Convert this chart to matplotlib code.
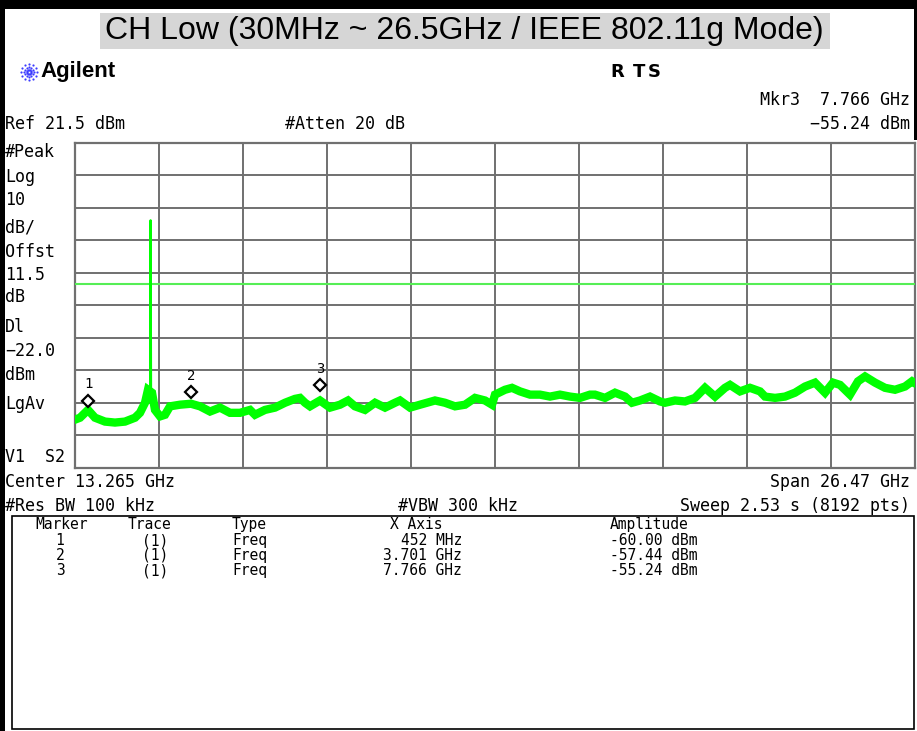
import numpy as np
import matplotlib
matplotlib.use("Agg")
import matplotlib.pyplot as plt
from matplotlib.patches import Rectangle
from matplotlib.transforms import offset_copy

W, H = 917, 731

# sweep settings
start_ghz, stop_ghz = 0.03, 26.5
ref_dbm = 21.5
db_per_div = 10
display_line_dbm = -22.0

# trace (centre of the noise band), GHz / dBm
trace_ghz = [0.030, 0.188, 0.440, 0.660, 0.975, 1.290, 1.606, 1.921, 2.078, 2.236,
             2.330, 2.456, 2.551, 2.709, 2.866, 3.024, 3.339, 3.685, 3.969, 4.284,
             4.599, 4.914, 5.229, 5.545, 5.702, 6.017, 6.332, 6.648, 6.963, 7.120,
             7.278, 7.435, 7.750, 8.066, 8.381, 8.633, 8.853, 9.168, 9.484, 9.799,
             10.114, 10.271, 10.587, 10.902, 11.374, 11.689, 12.005, 12.320, 12.635, 12.950,
             13.171, 13.265, 13.580, 13.801, 14.053, 14.368, 14.683, 14.998, 15.313, 15.629,
             15.944, 16.259, 16.416, 16.731, 17.047, 17.362, 17.582, 17.834, 18.149, 18.465,
             18.622, 18.937, 19.252, 19.567, 19.883, 20.198, 20.513, 20.671, 20.986, 21.301,
             21.616, 21.774, 22.089, 22.404, 22.719, 23.034, 23.350, 23.665, 23.917, 24.137,
             24.452, 24.704, 24.925, 25.240, 25.555, 25.870, 26.185, 26.406, 26.500]
trace_dbm = [-63.7, -63.1, -60.7, -63.1, -64.3, -64.6, -64.3, -63.1, -61.6, -58.5,
             -54.5, -55.4, -60.7, -62.7, -62.2, -59.6, -59.1, -58.8, -59.6, -61.2,
             -60.0, -61.6, -61.6, -60.7, -62.2, -60.7, -60.0, -58.5, -57.3, -57.0,
             -58.5, -59.6, -57.8, -60.0, -59.1, -57.8, -59.6, -60.7, -58.5, -60.0,
             -58.5, -57.8, -60.0, -59.1, -57.8, -58.5, -59.6, -59.1, -57.0, -57.8,
             -59.1, -56.0, -54.5, -53.9, -55.0, -56.0, -56.0, -56.6, -56.0, -56.6,
             -57.0, -56.0, -56.0, -57.0, -55.4, -56.6, -58.5, -57.8, -56.6, -58.1,
             -58.5, -57.8, -58.1, -57.0, -53.9, -56.6, -53.9, -53.0, -55.0, -53.9,
             -55.0, -56.6, -57.0, -56.6, -55.4, -53.5, -52.3, -55.4, -52.3, -53.0,
             -56.0, -51.9, -50.4, -52.3, -53.9, -54.5, -53.5, -51.9, -52.5]

# carrier spike (2.412 GHz)
spike_ghz = [2.398, 2.412, 2.426]
spike_dbm = [-54.5, -2.3, -54.5]

# markers
mkr_id = ["1", "2", "3"]
mkr_ghz = [0.452, 3.701, 7.766]
mkr_dbm = [-60.00, -57.44, -55.24]
mkr_xaxis = ["452 MHz", "3.701 GHz", "7.766 GHz"]
mkr_amp = ["-60.00 dBm", "-57.44 dBm", "-55.24 dBm"]

left_labels = ["#Peak", "Log", "10", "dB/", "Offst", "11.5", "dB", "Dl", "\u221222.0", "dBm", "LgAv"]
left_label_y = [152, 177, 200, 227, 252, 275, 297, 327, 351, 375, 404]

mono = "DejaVu Sans Mono"
fig = plt.figure(figsize=(W / 100, H / 100), dpi=100)
fig.patch.set_facecolor("white")


def put(x, y, s, **kw):
    kw.setdefault("va", "center")
    kw.setdefault("family", mono)
    return fig.text(x / W, 1 - y / H, s, **kw)


def box(x0, y0, x1, y1, **kw):
    fig.patches.append(Rectangle((x0 / W, 1 - y1 / H), (x1 - x0) / W, (y1 - y0) / H,
                                 transform=fig.transFigure, **kw))


# outer frame
box(0, 0, W, 9, facecolor="black", edgecolor="none")
box(0, 0, 4.5, H, facecolor="black", edgecolor="none")
box(914, 0, 917, 140, facecolor="black", edgecolor="none")

# title band
box(100, 13, 830, 49, facecolor="#d6d6d6", edgecolor="none")
put(464, 31, "CH Low (30MHz ~ 26.5GHz / IEEE 802.11g Mode)", ha="center",
    family="Liberation Sans", fontsize=23)

# Agilent logo
lax = fig.add_axes([20 / W, 1 - 81 / H, 18 / W, 18 / H])
lax.set_xlim(-1.1, 1.1)
lax.set_ylim(-1.1, 1.1)
lax.axis("off")
for a in np.arange(0, 360, 30):
    r = np.array([0.3, 0.6, 0.95])
    lax.scatter(r * np.cos(np.radians(a)), r * np.sin(np.radians(a)), s=2.5,
                color="#3b3bff", linewidths=0)
put(40, 72, "Agilent", family="Liberation Sans", fontweight="bold", fontsize=16)
put(610, 72, "R", family="DejaVu Sans", fontweight="bold", fontsize=13)
put(633, 72, "T", family="DejaVu Sans", fontweight="bold", fontsize=13)
put(648, 72, "S", family="DejaVu Sans", fontweight="bold", fontsize=13)

put(910, 100, "Mkr3  7.766 GHz", ha="right", fontsize=12)
put(5, 124, "Ref 21.5 dBm", fontsize=12)
put(285, 124, "#Atten 20 dB", fontsize=12)
put(910, 124, "\u221255.24 dBm", ha="right", fontsize=12)

for s, y in zip(left_labels, left_label_y):
    put(5, y, s, fontsize=12)
put(5, 457, "V1  S2", fontsize=12)

# graticule
ax = fig.add_axes([75 / W, 1 - 467.7 / H, 840 / W, 324.7 / H])
ax.set_xlim(start_ghz, stop_ghz)
ax.set_ylim(ref_dbm - 10 * db_per_div, ref_dbm)
ax.set_xticks(np.linspace(start_ghz, stop_ghz, 11))
ax.set_yticks(np.linspace(ref_dbm - 10 * db_per_div, ref_dbm, 11))
ax.tick_params(length=0, labelbottom=False, labelleft=False)
ax.grid(True, color="#707070", linewidth=1.4)
for sp in ax.spines.values():
    sp.set_color("#707070")
    sp.set_linewidth(1.6)
ax.set_facecolor("white")

ax.axhline(display_line_dbm, color="#55ee55", linewidth=1.5, zorder=3)
ax.plot(trace_ghz, trace_dbm, color="#00ff00", linewidth=6.0, solid_joinstyle="miter",
        zorder=4)
ax.plot(spike_ghz, spike_dbm, color="#00ff00", linewidth=1.6, zorder=4)

dtrans = offset_copy(ax.transData, fig=fig, x=0, y=7, units="dots")
ax.plot(mkr_ghz, mkr_dbm, "D", transform=dtrans, markersize=6.5,
        markerfacecolor="white", markeredgecolor="black", markeredgewidth=1.6, zorder=6)
for i, f, d in zip(mkr_id, mkr_ghz, mkr_dbm):
    ax.annotate(i, (f, d), xytext=(0, 17), textcoords="offset points", ha="center",
                va="center", family=mono, fontsize=10, zorder=6)

put(5, 482, "Center 13.265 GHz", fontsize=12)
put(910, 482, "Span 26.47 GHz", ha="right", fontsize=12)
put(5, 506, "#Res BW 100 kHz", fontsize=12)
put(398, 506, "#VBW 300 kHz", fontsize=12)
put(910, 506, "Sweep 2.53 s (8192 pts)", ha="right", fontsize=12)

# marker table
box(12, 516, 914, 729, facecolor="none", edgecolor="black", linewidth=1.2)
tfs = 10.5
ty = 529
put(35, ty, "Marker", fontsize=tfs, va="baseline")
put(128, ty, "Trace", fontsize=tfs, va="baseline")
put(232, ty, "Type", fontsize=tfs, va="baseline")
put(390, ty, "X Axis", fontsize=tfs, va="baseline")
put(610, ty, "Amplitude", fontsize=tfs, va="baseline")
for k, (i, xa, am) in enumerate(zip(mkr_id, mkr_xaxis, mkr_amp)):
    y = 545 + 15 * k
    put(60, y, i, ha="center", fontsize=tfs, va="baseline")
    put(155, y, "(1)", ha="center", fontsize=tfs, va="baseline")
    put(232, y, "Freq", fontsize=tfs, va="baseline")
    put(462, y, xa, ha="right", fontsize=tfs, va="baseline")
    put(610, y, am, fontsize=tfs, va="baseline")

fig.savefig("out.png", dpi=100, facecolor="white")
